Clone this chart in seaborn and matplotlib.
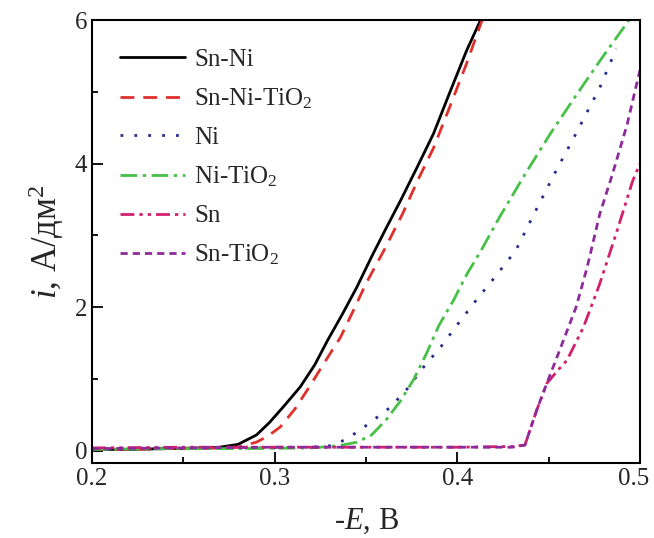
import matplotlib
matplotlib.use("Agg")
import matplotlib.pyplot as plt
import matplotlib.transforms as mtransforms
import seaborn as sns
import pandas as pd
from matplotlib.ticker import MultipleLocator

# ---- data ----
sn_ni_x = [0.20, 0.22, 0.24, 0.26, 0.27, 0.28, 0.29, 0.297, 0.305, 0.314, 0.322, 0.329,
           0.337, 0.345, 0.353, 0.361, 0.369, 0.378, 0.387, 0.396, 0.405, 0.412, 0.416]
sn_ni_y = [0.02, 0.02, 0.03, 0.04, 0.05, 0.09, 0.22, 0.39, 0.62, 0.89, 1.20, 1.54,
           1.90, 2.28, 2.70, 3.10, 3.49, 3.95, 4.42, 5.00, 5.57, 5.96, 6.20]

sn_ni_tio2_x = [0.20, 0.22, 0.24, 0.26, 0.28, 0.29, 0.296, 0.303, 0.311, 0.319, 0.327,
                0.336, 0.343, 0.350, 0.360, 0.370, 0.378, 0.387, 0.396, 0.405, 0.413, 0.418]
sn_ni_tio2_y = [0.02, 0.02, 0.03, 0.03, 0.05, 0.12, 0.20, 0.33, 0.58, 0.89, 1.22,
                1.58, 1.95, 2.33, 2.80, 3.30, 3.75, 4.22, 4.80, 5.39, 5.96, 6.30]

ni_x = [0.20, 0.24, 0.28, 0.30, 0.32, 0.33, 0.335, 0.341, 0.350, 0.363, 0.373, 0.381,
        0.391, 0.401, 0.411, 0.419, 0.432, 0.441, 0.453, 0.465, 0.478, 0.487]
ni_y = [0.02, 0.03, 0.04, 0.04, 0.05, 0.07, 0.11, 0.19, 0.35, 0.60, 0.875, 1.15,
        1.45, 1.79, 2.12, 2.37, 2.79, 3.25, 3.85, 4.42, 5.06, 5.60]

ni_tio2_x = [0.20, 0.24, 0.28, 0.32, 0.335, 0.345, 0.353, 0.361, 0.369, 0.376, 0.383,
             0.390, 0.398, 0.405, 0.413, 0.423, 0.437, 0.451, 0.465, 0.478, 0.494, 0.500]
ni_tio2_y = [0.02, 0.03, 0.03, 0.04, 0.07, 0.12, 0.22, 0.43, 0.70, 0.99, 1.35,
             1.75, 2.10, 2.45, 2.79, 3.25, 3.85, 4.42, 4.95, 5.43, 6.00, 6.20]

sn_x = [0.20, 0.25, 0.30, 0.35, 0.40, 0.43, 0.437, 0.4435, 0.449, 0.455, 0.460, 0.469,
        0.476, 0.478, 0.487, 0.496, 0.500]
sn_y = [0.04, 0.05, 0.05, 0.05, 0.05, 0.06, 0.08, 0.57, 0.94, 1.12, 1.26, 1.72,
        2.19, 2.33, 3.03, 3.76, 4.00]

sn_tio2_x = [0.20, 0.25, 0.30, 0.35, 0.40, 0.43, 0.437, 0.4435, 0.449, 0.456, 0.465,
             0.471, 0.478, 0.485, 0.493, 0.499, 0.500]
sn_tio2_y = [0.03, 0.04, 0.05, 0.05, 0.05, 0.05, 0.08, 0.57, 0.94, 1.40, 2.00,
             2.55, 3.30, 3.86, 4.55, 5.20, 5.30]

labels = ["Sn-Ni", "Sn-Ni-TiO$_2$", "Ni", "Ni-TiO$_2$", "Sn", "Sn-TiO$_2$"]
xs = [sn_ni_x, sn_ni_tio2_x, ni_x, ni_tio2_x, sn_x, sn_tio2_x]
ys = [sn_ni_y, sn_ni_tio2_y, ni_y, ni_tio2_y, sn_y, sn_tio2_y]

colors = ["#000000", "#e0302c", "#2a2a8c", "#46c046", "#d21f6e", "#8e2a9c"]
styles = ["-", (0, (5, 3.2)), (0, (1, 4)), (0, (6, 2, 1.2, 2)),
          (0, (5, 1.8, 1.2, 1.8, 1.2, 1.8)), (0, (2.6, 1.8))]

sns.set_style("ticks")
plt.rcParams["font.family"] = ["Liberation Serif", "DejaVu Serif"]
plt.rcParams["mathtext.fontset"] = "custom"
plt.rcParams["mathtext.rm"] = "Liberation Serif"
plt.rcParams["mathtext.it"] = "Liberation Serif:italic"

fig = plt.figure(figsize=(6.54, 5.38), dpi=100)
ax = fig.add_axes([0.1407, 0.1394, 0.8379, 0.8234])

for x, y, lab, c, ls in zip(xs, ys, labels, colors, styles):
    df = pd.DataFrame({"E": x, "i": y})
    sns.lineplot(data=df, x="E", y="i", ax=ax, color=c, linestyle=ls,
                 linewidth=2.0, label=lab, sort=False)

ax.set_xlim(0.2, 0.5)
ax.set_ylim(-0.17, 6)
ax.xaxis.set_major_locator(MultipleLocator(0.1))
ax.xaxis.set_minor_locator(MultipleLocator(0.05))
ax.yaxis.set_major_locator(MultipleLocator(2))
ax.yaxis.set_minor_locator(MultipleLocator(1))
ax.tick_params(which="both", direction="in", labelsize=18, width=1.3, color="black")
ax.tick_params(which="major", length=8)
ax.tick_params(which="minor", length=4)
ax.set_xticks([0.2, 0.3, 0.4, 0.5])
ax.set_xticklabels(["0.2", "0.3", "0.4", "0.5"])
for s in ax.spines.values():
    s.set_linewidth(1.5)
    s.set_color("black")

# nudge the last x tick label so it stays inside the figure
lastlab = ax.get_xticklabels()[-1]
lastlab.set_transform(lastlab.get_transform() +
                      mtransforms.ScaledTranslation(-6 / 100, 0, fig.dpi_scale_trans))

ax.set_xlabel("-$E$, В", fontsize=22, labelpad=12)
ax.set_ylabel("$i$, А/дм$^2$", fontsize=25, labelpad=6)

leg = ax.legend(loc="upper left", frameon=False, fontsize=18, handlelength=2.6,
                handletextpad=0.35, labelspacing=0.62, borderaxespad=0.3,
                bbox_to_anchor=(0.02, 0.975))

fig.savefig("out.png", dpi=100)
